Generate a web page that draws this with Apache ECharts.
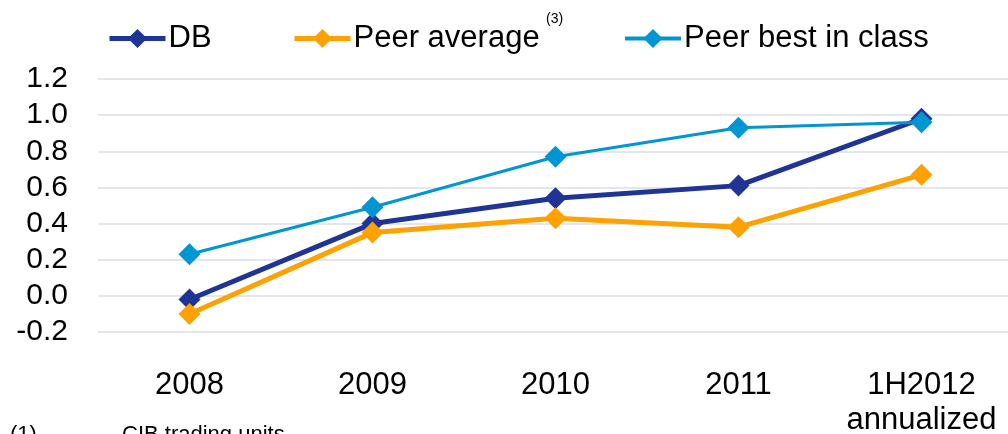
<!DOCTYPE html>
<html>
<head>
<meta charset="utf-8">
<script src="https://cdn.jsdelivr.net/npm/echarts@6/dist/echarts.min.js"></script>
<style>
  html, body { margin: 0; padding: 0; background: #fff; }
  #chart { width: 1008px; height: 434px; }
</style>
</head>
<body>
<div id="chart"></div>
<script>
// data
const categories = ['2008', '2009', '2010', '2011', '1H2012\nannualized'];
const dbValues = [-0.02, 0.40, 0.54, 0.61, 0.98];
const peerAverage = [-0.10, 0.35, 0.43, 0.38, 0.67];
const peerBest = [0.23, 0.49, 0.77, 0.93, 0.96];

const font = 'Liberation Sans, Arial, sans-serif';

const chart = echarts.init(document.getElementById('chart'));

function lineSeries(name, data, color, width) {
  return {
    name: name,
    type: 'line',
    data: data,
    symbol: 'diamond',
    symbolSize: 22,
    itemStyle: { color: color },
    lineStyle: { color: color, width: width },
    animation: false
  };
}

function legendAt(name, left, width) {
  return {
    data: [{ name: name, lineStyle: { width: width } }],
    left: left,
    top: 23,
    itemWidth: 56,
    itemHeight: 24,
    itemGap: 0,
    padding: 0,
    textStyle: { fontFamily: font, fontSize: 31, color: '#000', padding: [0, 0, 0, -2] }
  };
}

const option = {
  backgroundColor: '#fff',
  legend: [
    legendAt('DB', 107, 5),
    legendAt('Peer average', 292, 5),
    legendAt('Peer best in class', 623, 4)
  ],
  grid: { left: 98, top: 79, width: 915, bottom: 102, outerBoundsMode: 'none', containLabel: false },
  xAxis: {
    type: 'category',
    data: categories,
    axisLine: { show: false },
    axisTick: { show: false },
    axisLabel: {
      interval: 0,
      fontFamily: font, fontSize: 31, color: '#000',
      margin: 36, lineHeight: 35
    }
  },
  yAxis: {
    type: 'value',
    min: -0.2,
    max: 1.2,
    interval: 0.2,
    axisLine: { show: false },
    axisTick: { show: false },
    splitLine: { lineStyle: { color: '#e3e6ea', width: 2 } },
    axisLabel: {
      fontFamily: font, fontSize: 30, color: '#000', margin: 30,
      formatter: function (v) {
        if (Math.abs(v) < 1e-9) return '0.0';
        return v.toFixed(1);
      }
    }
  },
  graphic: [
    { type: 'text', left: 546, top: 12,
      style: { text: '(3)', font: '14px ' + font, fill: '#000' } },
    { type: 'text', left: 10, top: 424,
      style: { text: '(1)', font: '22px ' + font, fill: '#000' } },
    { type: 'text', left: 122, top: 424,
      style: { text: 'CIB trading units', font: '22px ' + font, fill: '#000' } }
  ],
  series: [
    lineSeries('DB', dbValues, '#1f3494', 5),
    lineSeries('Peer average', peerAverage, '#ffa100', 5),
    lineSeries('Peer best in class', peerBest, '#0095d3', 3)
  ]
};

chart.setOption(option);
</script>
</body>
</html>
